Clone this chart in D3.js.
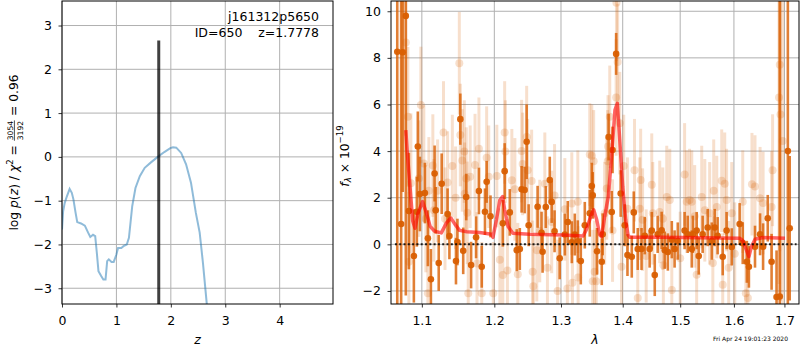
<!DOCTYPE html>
<html>
<head>
<meta charset="utf-8">
<script src="https://cdn.jsdelivr.net/npm/d3@7/dist/d3.min.js"></script>
<style>
body {margin:0; background:#fff;}
text {font-family:"DejaVu Sans", sans-serif;}
</style>
</head>
<body>
<svg id="chart" width="800" height="350"></svg>
<script>
// p(z) curve, [z, log p(z)]
var pzCurve = [
	[0,-1.66],[0.02,-1.25],[0.05,-1.05],[0.09,-0.9],[0.14,-0.73],[0.18,-0.82],[0.21,-0.97],
	[0.25,-1.28],[0.28,-1.49],[0.35,-1.52],[0.42,-1.57],[0.48,-1.73],[0.52,-1.83],[0.57,-1.78],
	[0.61,-1.81],[0.64,-2.19],[0.67,-2.61],[0.72,-2.72],[0.76,-2.80],[0.80,-2.80],[0.83,-2.38],
	[0.86,-2.34],[0.91,-2.40],[0.95,-2.40],[1.00,-2.23],[1.03,-2.08],[1.09,-2.08],[1.13,-2.04],
	[1.19,-2.00],[1.23,-1.85],[1.29,-1.13],[1.35,-0.71],[1.43,-0.44],[1.52,-0.25],[1.64,-0.12],
	[1.76,0.0],[1.88,0.11],[1.99,0.2],[2.04,0.22],[2.10,0.21],[2.19,0.09],[2.28,-0.17],
	[2.37,-0.59],[2.46,-1.28],[2.53,-1.73],[2.59,-2.42],[2.66,-3.35],[2.72,-3.9]
];
var zBest = 1.7778, zBestTop = 2.66;
var zTicks = [0, 1, 2, 3, 4];
var pzTicks = [-3, -2, -1, 0, 1, 2, 3];

// spectrum, [lambda, flux, err]
var specLight = [
	[1.079,8.66,4],[1.0817,5.47,3],[1.0856,2.62,3],[1.083,-0.75,3],[1.0987,5.98,2.5],[1.1026,3.47,2.5],
	[1.096,2.82,2.5],[1.1053,1.1,2.3],[1.1093,2.3,2.3],[1.108,-2.1,2.3],[1.1146,3.38,2.2],[1.116,1.46,2.2],
	[1.121,2.3,2.2],[1.129,4.8,2.2],[1.131,1.1,2.2],[1.1345,2.65,2.2],[1.141,3.36,2.2],[1.1455,2.0,2.2],
	[1.1506,7.77,2.2],[1.152,4.69,2.2],[1.1547,3.6,2.2],[1.1575,3.98,2.2],[1.1602,2.82,2.2],[1.158,2.17,2.2],
	[1.1616,1.35,2.2],[1.1657,2.9,2.2],[1.163,-2.1,2.2],[1.1725,3.4,2.2],[1.1753,-0.82,2.2],[1.178,4.1,2.2],
	[1.182,-2.1,2.2],[1.189,3.72,2.2],[1.1985,-2.1,2.2],[1.192,2.9,2.2],[1.2036,2.93,2.2],[1.208,-0.66,2.2],
	[1.2123,-1.32,2.2],[1.215,4.8,2.2],[1.216,3.98,2.2],[1.219,-1.12,2.2],[1.2255,2.75,2.2],[1.23,2.36,2.2],
	[1.2343,-1.28,2.2],[1.240,4.0,2.2],[1.2415,3.45,2.2],[1.2475,4.6,2.2],[1.249,3.18,2.2],[1.255,2.72,2.2],
	[1.2565,-1.18,2.2],[1.2575,-1.8,2.2],[1.2628,-0.25,2.2],[1.2673,0.57,2.2],[1.275,2.6,2.2],[1.279,-1.0,2.2],
	[1.2856,0.96,2.2],[1.290,2.1,2.2],[1.2947,-2.0,2.2],[1.306,1.5,2.2],[1.31,-1.9,2.2],[1.317,1.75,2.2],
	[1.318,-1.65,2.2],[1.3265,1.83,2.2],[1.327,-1.42,2.2],[1.3457,3.85,2.2],[1.3505,-1.58,2.2],[1.349,3.8,2.2],
	[1.352,3.56,2.2],[1.3535,-1.18,2.2],[1.3562,-1.58,2.2],[1.370,1.33,2.2],[1.3734,2.4,2.2],[1.375,3.56,2.2],
	[1.3755,4.2,2.2],[1.3784,5.47,2.2],[1.383,0.59,2.2],[1.389,6.3,2.5],[1.3895,10.36,2.5],[1.3915,7.82,2.5],
	[1.395,5.2,2.2],[1.398,-0.96,2.2],[1.4017,3.36,2.2],[1.408,1.53,2.2],[1.42,3.18,2.2],[1.4255,-2.3,2.2],
	[1.429,1.53,2.2],[1.4305,2.76,2.2],[1.4338,1.06,2.2],[1.44,-0.5,2.0],[1.4497,2.56,2.2],[1.4515,1.33,2.2],
	[1.4636,1.39,2.2],[1.469,1.1,2.2],[1.47,-0.9,2.2],[1.476,2.03,2.2],[1.4814,1.9,2.2],[1.485,-1.96,2.2],
	[1.50,-0.6,2.0],[1.508,3.0,2.2],[1.5118,1.83,2.2],[1.517,1.9,2.2],[1.521,1.83,2.2],[1.5264,1.2,2.2],
	[1.53,-1.3,2.0],[1.5393,2.03,2.2],[1.545,1.46,2.2],[1.554,1.33,2.2],[1.56,-0.8,2.0],[1.5616,2.3,2.2],
	[1.5673,1.6,2.2],[1.5767,2.73,2.2],[1.5786,-1.73,2.2],[1.5824,2.6,2.2],[1.586,1.9,2.2],[1.59,-1.0,2.0],
	[1.5958,1.33,2.2],[1.6016,-0.4,2.2],[1.617,1.83,2.2],[1.623,-2.1,2.2],[1.627,-2.3,2.2],[1.635,2.58,2.2],
	[1.641,2.48,2.2],[1.651,1.98,2.2],[1.657,1.77,2.2],[1.674,1.6,2.4],[1.676,3.18,2.4],[1.6905,7.7,8],
	[1.689,6.3,8],[1.692,5.57,8],[1.6965,4.43,8]
];
var specDark = [
	[1.068,8.26,14],[1.073,0.87,12],[1.075,8.24,6],[1.079,9.8,12],[1.083,1.43,2.5],[1.0895,-0.5,2.0],
	[1.0934,1.4,1.5],[1.0947,4.2,1.5],[1.0974,2.16,1.6],[1.104,2.2,1.3],[1.108,0.26,1.2],[1.112,-1.5,1.3],
	[1.117,3.04,1.2],[1.1185,1.46,1.0],[1.1225,-0.8,1.2],[1.1265,2.6,1.3],[1.1345,1.3,1.1],[1.137,0.36,1.0],
	[1.146,-0.72,1.0],[1.148,0.1,1.0],[1.152,5.37,1.1],[1.156,-0.28,1.0],[1.1602,2.03,1.0],[1.167,-0.89,1.0],
	[1.174,0.3,0.9],[1.178,2.29,1.0],[1.182,-0.96,0.9],[1.1866,1.4,1.0],[1.189,2.68,0.9],[1.1945,1.2,0.9],
	[1.2123,0.9,1.0],[1.215,3.14,1.2],[1.2225,1.37,1.0],[1.2328,-0.25,0.9],[1.2373,-0.2,0.9],[1.240,2.36,1.0],
	[1.2445,2.33,1.0],[1.2475,4.4,1.6],[1.2505,0.82,0.9],[1.264,1.61,0.9],[1.270,0.5,0.9],[1.2716,-0.32,0.9],
	[1.2765,1.6,0.9],[1.2826,2.76,1.0],[1.2856,1.82,0.9],[1.290,0.56,0.9],[1.298,-0.6,0.9],[1.306,0.42,0.9],
	[1.3106,0.96,0.9],[1.317,0.09,0.9],[1.3217,0.42,0.9],[1.3265,0.13,0.9],[1.3313,-0.72,1.0],[1.3377,0.82,1.0],
	[1.3457,1.33,1.0],[1.349,2.5,1.0],[1.3505,2.1,1.0],[1.3575,-0.3,1.0],[1.3652,-0.75,1.0],[1.3667,0.43,0.9],
	[1.3765,4.6,1.0],[1.3817,1.39,0.9],[1.383,4.05,1.0],[1.389,8.17,0.9],[1.3966,2.18,1.0],[1.4034,0.82,0.9],
	[1.408,-0.46,0.9],[1.4153,-0.53,0.9],[1.4187,1.37,0.9],[1.4255,-0.2,0.9],[1.432,-0.2,0.9],[1.4375,0.37,0.8],
	[1.446,-0.2,0.8],[1.4497,0.59,0.8],[1.4549,-1.32,0.9],[1.460,0.43,0.8],[1.467,0.6,0.8],[1.4725,-0.25,0.8],
	[1.478,-0.33,0.8],[1.485,0.2,0.8],[1.490,-0.2,0.8],[1.4957,0.14,0.8],[1.508,0.59,0.8],[1.5136,0.43,0.8],
	[1.521,-0.2,0.8],[1.523,0.43,0.8],[1.530,0.59,0.8],[1.5338,-0.5,0.8],[1.541,0.43,0.8],[1.5504,0.72,0.8],
	[1.558,0.14,0.8],[1.5635,0.72,0.8],[1.569,0.37,0.8],[1.5786,-0.53,0.8],[1.586,0.59,0.8],[1.5958,-0.11,0.8],
	[1.611,0.87,0.9],[1.617,0.05,0.9],[1.625,-0.75,0.9],[1.629,-0.96,0.9],[1.641,-0.1,0.9],[1.651,0.43,0.9],
	[1.657,-0.1,1.0],[1.6663,1.12,1.0],[1.674,-0.75,1.2],[1.684,-2.26,2.0],[1.6905,-2.24,14],[1.707,4,12],
	[1.7108,0.69,3.1]
];
// best-fit template, [lambda, flux]
var modelLine = [
	[1.079,4.9],[1.081,3.9],[1.084,2.67],[1.088,1.0],[1.091,0.69],[1.095,1.35],[1.101,1.83],[1.106,1.35],
	[1.111,0.77],[1.117,0.56],[1.126,0.49],[1.133,0.92],[1.139,1.13],[1.144,0.89],[1.151,0.6],[1.161,0.54],
	[1.179,0.51],[1.196,0.43],[1.198,0.3],[1.203,1.05],[1.208,1.9],[1.212,2.05],[1.215,1.48],[1.220,0.77],
	[1.227,0.48],[1.252,0.43],[1.303,0.4],[1.335,0.36],[1.340,0.62],[1.349,1.33],[1.352,1.48],[1.357,1.05],
	[1.362,0.4],[1.365,0.33],[1.370,1.19],[1.376,2.05],[1.381,3.62],[1.387,5.76],[1.391,6.05],[1.395,4.48],
	[1.400,2.47],[1.405,1.05],[1.409,0.4],[1.412,0.3],[1.470,0.3],[1.611,0.26],[1.617,0.16],[1.624,-0.24],
	[1.629,-0.53],[1.634,-0.1],[1.641,0.22],[1.657,0.29],[1.701,0.26]
];
var lamTicks = [1.1, 1.2, 1.3, 1.4, 1.5, 1.6, 1.7];
var fluxTicks = [-2, 0, 2, 4, 6, 8, 10];

var svg = d3.select("#chart");
var orange = "#d95f02";
var fs = 12.5;
var L = {left: 62, right: 333, top: 1, bottom: 304};
var R = {left: 391, right: 799, top: 1, bottom: 304};

var xz = d3.scaleLinear().domain([0, 4.98]).range([L.left, L.right]);
var yp = d3.scaleLinear().domain([-3.36, 3.56]).range([L.bottom, L.top]);
var xl = d3.scaleLog().domain([1.06, 1.73]).range([R.left, R.right]);
var yf = d3.scaleLinear().domain([-2.56, 10.44]).range([R.bottom, R.top]);

var defs = svg.append("defs");
[["clipL", L], ["clipR", R]].forEach(function(c) {
	defs.append("clipPath").attr("id", c[0]).append("rect")
		.attr("x", c[1].left).attr("y", c[1].top)
		.attr("width", c[1].right - c[1].left).attr("height", c[1].bottom - c[1].top);
});

function grid(box, x, y, xt, yt) {
	var g = svg.append("g").attr("stroke", "#b0b0b0").attr("stroke-width", 1);
	g.selectAll(".gx").data(xt).enter().append("line")
		.attr("x1", x).attr("x2", x).attr("y1", box.top).attr("y2", box.bottom);
	g.selectAll(".gy").data(yt).enter().append("line")
		.attr("y1", y).attr("y2", y).attr("x1", box.left).attr("x2", box.right);
}

function axes(box, x, y, xt, yt, fmt) {
	var ax = svg.append("g").attr("transform", "translate(0," + box.bottom + ")")
		.call(d3.axisBottom(x).tickValues(xt).tickSize(3.5).tickPadding(8.6).tickFormat(fmt));
	var ay = svg.append("g").attr("transform", "translate(" + box.left + ",0)")
		.call(d3.axisLeft(y).tickValues(yt).tickSize(3.5).tickPadding(6.5)
			.tickFormat(function(d) { return d < 0 ? "\u2212" + Math.abs(d) : d; }));
	[ax, ay].forEach(function(a) {
		a.select(".domain").remove();
		a.selectAll("text").attr("font-size", fs).attr("font-family", "DejaVu Sans").attr("fill", "#000");
		a.selectAll("line").attr("stroke", "#000").attr("stroke-width", 0.8);
	});
	svg.append("rect").attr("x", box.left).attr("y", box.top)
		.attr("width", box.right - box.left).attr("height", box.bottom - box.top)
		.attr("fill", "none").attr("stroke", "#000").attr("stroke-width", 1);
}

// ---------- left: p(z)
grid(L, xz, yp, zTicks, pzTicks);
var pl = svg.append("g").attr("clip-path", "url(#clipL)");
pl.append("path").datum(pzCurve)
	.attr("d", d3.line().x(function(d) { return xz(d[0]); }).y(function(d) { return yp(d[1]); }))
	.attr("fill", "none").attr("stroke", "#1f77b4").attr("stroke-opacity", 0.5).attr("stroke-width", 2);
pl.append("line").attr("x1", xz(zBest)).attr("x2", xz(zBest))
	.attr("y1", yp(-3.36)).attr("y2", yp(zBestTop))
	.attr("stroke", "#000").attr("stroke-opacity", 0.75).attr("stroke-width", 3);
axes(L, xz, yp, zTicks, pzTicks, d3.format("d"));

svg.append("text").attr("x", 319).attr("y", 20.5).attr("text-anchor", "end")
	.attr("font-size", fs).text("j161312p5650");
svg.append("text").attr("x", 319).attr("y", 37).attr("text-anchor", "end")
	.attr("font-size", fs).style("white-space", "pre").text("ID=650    z=1.7778");

svg.append("text").attr("x", (L.left + L.right) / 2).attr("y", 344).attr("text-anchor", "middle")
	.attr("font-size", fs).attr("font-style", "italic").text("z");

// left y label with stacked fraction
var yl = svg.append("g");
var inner = yl.append("g");
var t1 = inner.append("text").attr("font-size", 12.3);
t1.append("tspan").text("log ");
t1.append("tspan").attr("font-style", "italic").text("p");
t1.append("tspan").text("(");
t1.append("tspan").attr("font-style", "italic").text("z");
t1.append("tspan").text(") / ");
t1.append("tspan").attr("font-style", "italic").text("\u03c7");
t1.append("tspan").attr("font-size", 8.6).attr("dy", -5).text("2");
t1.append("tspan").attr("dy", 5).text("\u00a0=\u00a0");
var w1 = t1.node().getComputedTextLength();
var num = inner.append("text").attr("font-size", 7.6).attr("text-anchor", "middle").attr("y", -5.2).text("3054");
var den = inner.append("text").attr("font-size", 7.6).attr("text-anchor", "middle").attr("y", 4.8).text("3192");
var fw = Math.max(num.node().getComputedTextLength(), den.node().getComputedTextLength()) + 1;
num.attr("x", w1 + fw / 2 + 0.5);
den.attr("x", w1 + fw / 2 + 0.5);
inner.append("line").attr("x1", w1 + 0.5).attr("x2", w1 + fw + 0.5).attr("y1", -3.6).attr("y2", -3.6)
	.attr("stroke", "#000").attr("stroke-width", 0.7);
var t2 = inner.append("text").attr("font-size", 12.3).attr("x", w1 + fw + 1).text("\u00a0=\u00a00.96");
var total = w1 + fw + 1 + t2.node().getComputedTextLength();
inner.attr("transform", "translate(" + (-total / 2) + ",0)");
yl.attr("transform", "translate(18," + ((L.top + L.bottom) / 2) + ") rotate(-90)");

// ---------- right: spectrum
grid(R, xl, yf, lamTicks, fluxTicks);
var pr = svg.append("g").attr("clip-path", "url(#clipR)");

function errbars(data, opacity, width, r, ptOpacity) {
	var g = pr.append("g");
	g.selectAll("line").data(data).enter().append("line")
		.attr("x1", function(d) { return xl(d[0]); }).attr("x2", function(d) { return xl(d[0]); })
		.attr("y1", function(d) { return yf(d[1] - d[2]); }).attr("y2", function(d) { return yf(d[1] + d[2]); })
		.attr("stroke", orange).attr("stroke-opacity", opacity).attr("stroke-width", width);
	g.selectAll("circle").data(data).enter().append("circle")
		.attr("cx", function(d) { return xl(d[0]); }).attr("cy", function(d) { return yf(d[1]); })
		.attr("r", r).attr("fill", orange).attr("fill-opacity", ptOpacity);
}
errbars(specLight, 0.2, 3, 4, 0.2);
errbars(specDark, 0.8, 2.6, 3.3, 0.95);

pr.append("path").datum(modelLine)
	.attr("d", d3.line().x(function(d) { return xl(d[0]); }).y(function(d) { return yf(d[1]); }))
	.attr("fill", "none").attr("stroke", "#ff0000").attr("stroke-opacity", 0.6)
	.attr("stroke-width", 3.5).attr("stroke-linejoin", "round");

pr.append("line").attr("x1", xl(1.065)).attr("x2", xl(1.725)).attr("y1", yf(0)).attr("y2", yf(0))
	.attr("stroke", "#000").attr("stroke-width", 2).attr("stroke-dasharray", "2,2.3").attr("stroke-opacity", 0.85);

axes(R, xl, yf, lamTicks, fluxTicks, d3.format(".1f"));

svg.append("text").attr("x", (R.left + R.right) / 2).attr("y", 344).attr("text-anchor", "middle")
	.attr("font-size", fs).attr("font-style", "italic").text("\u03bb");

var fl = svg.append("text").attr("font-size", 12.3).attr("text-anchor", "middle")
	.attr("transform", "translate(348.5,156) rotate(-90)");
fl.append("tspan").attr("font-style", "italic").text("f");
fl.append("tspan").attr("font-size", 8.6).attr("font-style", "italic").attr("dy", 2.8).text("\u03bb");
fl.append("tspan").attr("dy", -2.8).text(" \u00d7 10");
fl.append("tspan").attr("font-size", 8.6).attr("dy", -5.5).text("\u221219");

svg.append("text").attr("x", 788).attr("y", 341).attr("text-anchor", "end")
	.attr("font-size", 6).text("Fri Apr 24 19:01:23 2020");
</script>
</body>
</html>
